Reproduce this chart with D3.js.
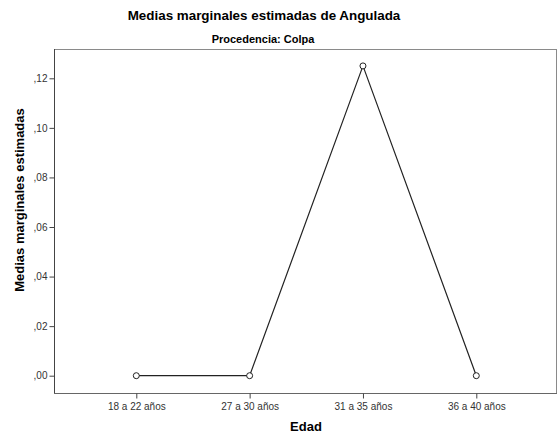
<!DOCTYPE html>
<html>
<head>
<meta charset="utf-8">
<script src="https://cdn.jsdelivr.net/npm/d3@7"></script>
<style>
  body { margin: 0; background: #fff; }
  text { font-family: "Liberation Sans", Arial, sans-serif; fill: #000; }
</style>
</head>
<body>
<div id="chart"></div>
<script>
const categories = ["18 a 22 años", "27 a 30 años", "31 a 35 años", "36 a 40 años"];
const values = [0.0, 0.0, 0.125, 0.0];
const yTicks = [0, 0.02, 0.04, 0.06, 0.08, 0.10, 0.12];

const W = 558, H = 438;
const plot = {left: 54, top: 49, right: 557, bottom: 393};

const svg = d3.select("#chart").append("svg")
    .attr("width", W)
    .attr("height", H);

const x = d3.scalePoint()
    .domain(categories)
    .range([136.3, 476.3]);

const y = d3.scaleLinear()
    .domain([0, 0.12])
    .range([375.7, 78.3]);

// frame
svg.append("rect")
    .attr("x", plot.left + 0.5)
    .attr("y", plot.top + 0.5)
    .attr("width", plot.right - plot.left - 1)
    .attr("height", plot.bottom - plot.top)
    .style("fill", "none")
    .style("stroke", "#8a8a8a");

// y axis
const yAxis = d3.axisLeft(y)
    .tickValues(yTicks)
    .tickSize(5)
    .tickPadding(2)
    .tickFormat(d => d3.format(".2f")(d).replace("0.", ","));

const gy = svg.append("g")
    .attr("transform", `translate(${plot.left + 0.5},0)`)
    .call(yAxis);
gy.select(".domain").attr("d", `M0,${plot.top}V${plot.bottom}`).style("stroke", "#444");
gy.selectAll(".tick line").style("stroke", "#444");
gy.selectAll("text").style("font-size", "10px").style("fill", "#333");

// x axis
const xAxis = d3.axisBottom(x).tickSize(5).tickPadding(4);
const gx = svg.append("g")
    .attr("transform", `translate(0,${plot.bottom + 0.5})`)
    .call(xAxis);
gx.select(".domain").attr("d", `M${plot.left},0H${plot.right}`).style("stroke", "#666");
gx.selectAll(".tick line").style("stroke", "#444");
gx.selectAll("text").style("font-size", "10px").style("fill", "#333");

// line + markers
const line = d3.line()
    .x((d, i) => x(categories[i]))
    .y(d => y(d));

svg.append("path")
    .datum(values)
    .attr("d", line)
    .style("fill", "none")
    .style("stroke", "#222")
    .attr("stroke-width", 1.2);

svg.selectAll(".dot")
    .data(values)
    .enter().append("circle")
    .attr("class", "dot")
    .attr("cx", (d, i) => x(categories[i]))
    .attr("cy", d => y(d))
    .attr("r", 3)
    .style("fill", "#fff")
    .style("stroke", "#222")
    .attr("stroke-width", 1);

// titles
svg.append("text")
    .attr("x", 264).attr("y", 20)
    .attr("text-anchor", "middle")
    .style("font-size", "13.4px").style("font-weight", "bold")
    .text("Medias marginales estimadas de Angulada");

svg.append("text")
    .attr("x", 263).attr("y", 43)
    .attr("text-anchor", "middle")
    .style("font-size", "11px").style("font-weight", "bold")
    .text("Procedencia: Colpa");

svg.append("text")
    .attr("transform", "translate(24,200) rotate(-90)")
    .attr("text-anchor", "middle")
    .style("font-size", "13px").style("font-weight", "bold")
    .text("Medias marginales estimadas");

svg.append("text")
    .attr("x", 306).attr("y", 431)
    .attr("text-anchor", "middle")
    .style("font-size", "13px").style("font-weight", "bold")
    .text("Edad");
</script>
</body>
</html>
